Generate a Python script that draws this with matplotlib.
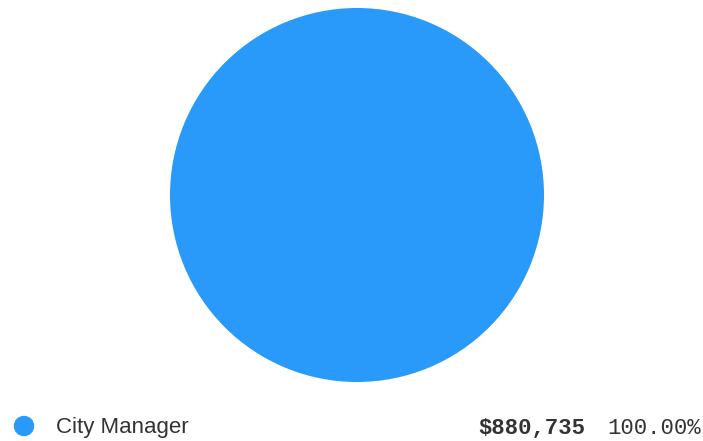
import matplotlib
matplotlib.use('Agg')
import matplotlib.pyplot as plt
from matplotlib.patches import Ellipse

labels = ['City Manager']
values = [880735]
colors = ['#2999fa']

W, H = 703, 441
fig = plt.figure(figsize=(W / 100, H / 100), dpi=100)

# pie, placed in pixel coordinates
cx, cy, r = 357, 195, 187
ax = fig.add_axes([(cx - r) / W, (H - cy - r) / H, 2 * r / W, 2 * r / H])
ax.pie(values, colors=colors, startangle=90, counterclock=False,
       wedgeprops={'linewidth': 0})
ax.set_xlim(-1, 1)
ax.set_ylim(-1, 1)
ax.set_aspect('equal')
ax.axis('off')

total = sum(values)
y0 = 426
for i, (lab, v) in enumerate(zip(labels, values)):
    y = y0 + i * 30
    ty = 1 - (y + 2) / H
    fig.patches.append(Ellipse((24 / W, 1 - y / H), 19 / W, 19 / H,
                               color=colors[i], transform=fig.transFigure,
                               figure=fig))
    fig.text(56 / W, ty, lab, fontsize=16, color='#333333',
             family='Liberation Sans', va='center', ha='left')
    fig.text(585 / W, ty, '${:,.0f}'.format(v), fontsize=16,
             color='#333333', family='Liberation Mono', weight='bold',
             va='center', ha='right')
    fig.text(701 / W, ty, '{:.2f}%'.format(100 * v / total),
             fontsize=16, color='#333333', family='Liberation Mono',
             va='center', ha='right')

fig.savefig('out.png', dpi=100)
